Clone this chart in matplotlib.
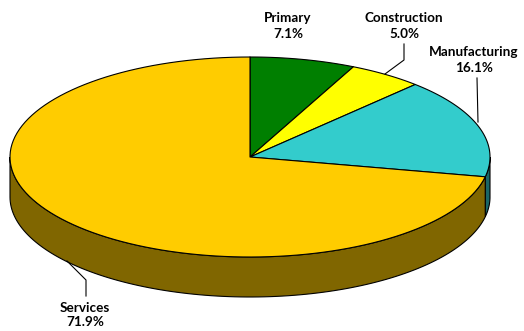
import matplotlib.pyplot as plt
import numpy as np
from matplotlib.patches import Polygon

# employment share by sector (%)
sectors = ['Primary', 'Construction', 'Manufacturing', 'Services']
shares = [7.1, 5.0, 16.1, 71.9]
top_colors = ['#007f00', '#ffff00', '#33cccc', '#ffcc00']
side_colors = ['#004000', '#808000', '#1a6666', '#806600']

# ellipse geometry in pixel units
cx, cy = 250, 157
ra, rb = 240, 100
depth = 40


def rim(t0, t1, n=120):
    t = np.radians(np.linspace(t0, t1, n))
    return np.column_stack([cx + ra * np.sin(t), cy - rb * np.cos(t)])


fig = plt.figure(figsize=(5.24, 3.31), dpi=100)
ax = fig.add_axes([0, 0, 1, 1])
ax.set_xlim(0, 524)
ax.set_ylim(331, 0)
ax.axis('off')

bounds = np.concatenate([[0], np.cumsum(shares)]) / sum(shares) * 360

# side walls (only the front half, 90..270 deg clockwise from top)
for i in range(len(shares)):
    t0, t1 = max(bounds[i], 90), min(bounds[i + 1], 270)
    if t1 <= t0:
        continue
    upper = rim(t0, t1)
    lower = upper[::-1] + [0, depth]
    ax.add_patch(Polygon(np.vstack([upper, lower]), closed=True,
                         facecolor=side_colors[i], edgecolor='black', lw=0.8))

# top face
for i in range(len(shares)):
    pts = np.vstack([[cx, cy], rim(bounds[i], bounds[i + 1])])
    ax.add_patch(Polygon(pts, closed=True, facecolor=top_colors[i],
                         edgecolor='black', lw=0.8, joinstyle='round'))

# labels and leader lines
label_pos = [(288, 26), (404, 26), (474, 60), (85, 315)]
for name, val, (x, y) in zip(sectors, shares, label_pos):
    ax.text(x, y, f'{name}\n{val:.1f}%', ha='center', va='center',
            family=['Lato', 'DejaVu Sans'], fontsize=9.7, fontweight='bold',
            linespacing=1.3)

ax.plot([404, 404, 385], [44, 60, 74], color='black', lw=0.8)
ax.plot([477, 478], [78, 122], color='black', lw=0.8)
ax.plot([86, 86, 67], [296, 280, 261], color='black', lw=0.8)

fig.savefig('out.png', dpi=100)
